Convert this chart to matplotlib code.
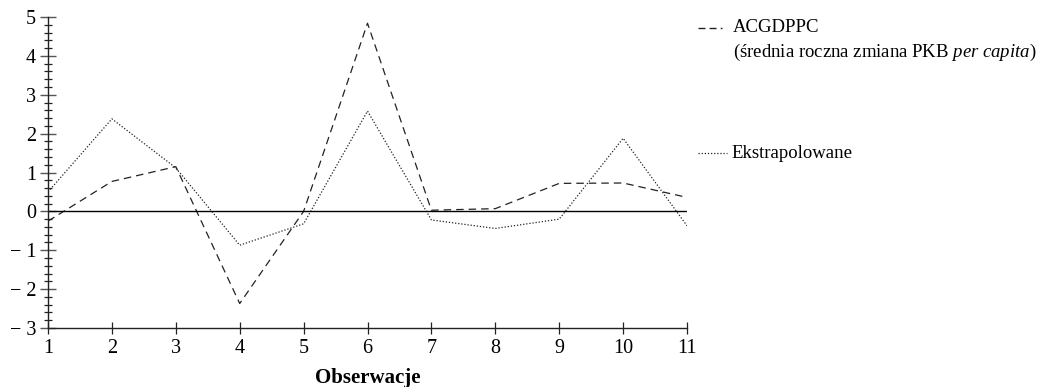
import matplotlib
matplotlib.use('Agg')
import matplotlib.pyplot as plt
from matplotlib.lines import Line2D
from matplotlib.ticker import MultipleLocator, FuncFormatter

plt.rcParams['font.family'] = ['Liberation Serif', 'DejaVu Serif']
plt.rcParams['mathtext.fontset'] = 'custom'
plt.rcParams['mathtext.it'] = 'Liberation Serif:italic'
plt.rcParams['mathtext.rm'] = 'Liberation Serif'

# data
obs = [1, 2, 3, 4, 5, 6, 7, 8, 9, 10, 11]
acgdppc = [-0.25, 0.77, 1.15, -2.37, 0.0, 4.84, 0.03, 0.07, 0.72, 0.73, 0.36]
ekstrapolowane = [0.5, 2.38, 1.12, -0.87, -0.32, 2.58, -0.22, -0.44, -0.2, 1.88, -0.37]

label_acg = 'ACGDPPC'
label_acg2 = r'(średnia roczna zmiana PKB $\it{per\ capita}$)'
label_ext = 'Ekstrapolowane'
xlabel = 'Obserwacje'

fig = plt.figure(figsize=(10.42, 3.87), dpi=100)
ax = fig.add_axes([48 / 1042, 1 - 328 / 387, (687 - 48) / 1042, (328 - 17) / 387])

ax.plot(obs, acgdppc, color='#222222', lw=0.9, dashes=(6, 4))
ax.plot(obs, ekstrapolowane, color='#222222', lw=0.9, dashes=(1, 1.5))
ax.axhline(0, color='black', lw=1)

ax.set_xlim(1, 11)
ax.set_ylim(-3, 5)
ax.set_xticks(obs)
ax.yaxis.set_major_locator(MultipleLocator(1))
ax.yaxis.set_minor_locator(MultipleLocator(0.2))
ax.yaxis.set_major_formatter(FuncFormatter(
    lambda v, p: f'\u2212 {abs(int(round(v)))}' if v < 0 else f'{int(round(v))}'))

for s in ['top', 'right']:
    ax.spines[s].set_visible(False)
for s in ['left', 'bottom']:
    ax.spines[s].set_linewidth(1)
    ax.spines[s].set_color('#222222')

ax.tick_params(axis='y', which='major', direction='inout', length=11, width=1,
               color='#555555', labelsize=14.5, pad=3)
ax.tick_params(axis='y', which='minor', direction='inout', length=6, width=0.9,
               color='#222222')
ax.tick_params(axis='x', which='major', direction='inout', length=8, width=0.9,
               color='#222222', labelsize=14.5, pad=4)
ax.set_xlabel(xlabel, fontsize=15, fontweight='bold', labelpad=7)

# legend drawn by hand on the right
fig.add_artist(Line2D([698 / 1042, 722 / 1042], [1 - 28 / 387] * 2,
                      color='#222222', lw=1, dashes=(5, 3)))
fig.text(733 / 1042, 1 - 28 / 387, label_acg, fontsize=13.5, va='center')
fig.text(733 / 1042, 1 - 52 / 387, label_acg2, fontsize=13.5, va='center')
fig.add_artist(Line2D([698 / 1042, 727 / 1042], [1 - 153 / 387] * 2,
                      color='#222222', lw=0.9, dashes=(1, 1.5)))
fig.text(731 / 1042, 1 - 153 / 387, label_ext, fontsize=13.5, va='center')

fig.savefig('out.png', dpi=100)
